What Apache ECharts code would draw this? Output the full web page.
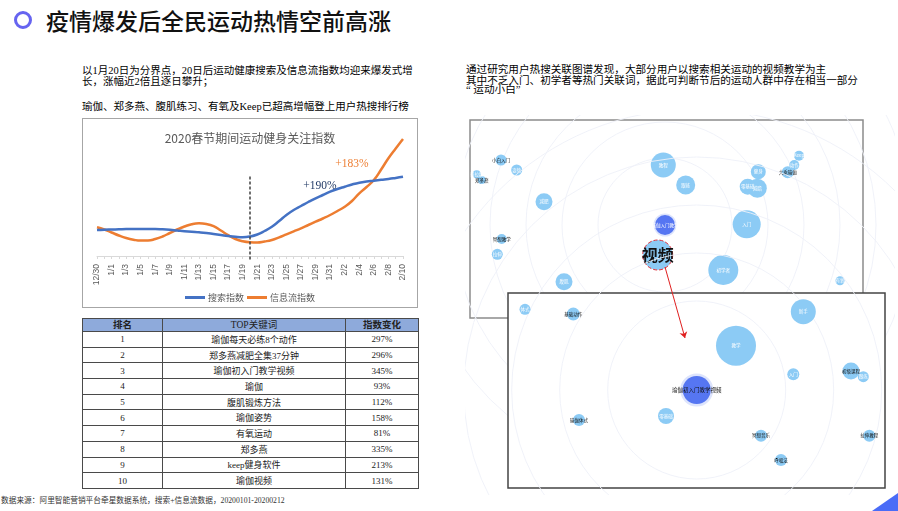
<!DOCTYPE html>
<html><head><meta charset="utf-8">
<script src="https://cdn.jsdelivr.net/npm/echarts@6/dist/echarts.min.js"></script>
<style>
html,body{margin:0;padding:0;width:898px;height:511px;overflow:hidden;background:#fff;}
body{position:relative;font-family:"Liberation Serif","Noto Sans CJK SC",serif;color:#000;}
.abs{position:absolute;white-space:nowrap;}
#icon{left:14px;top:11px;width:12px;height:12px;border-radius:50%;border:3.5px solid #6664f0;}
#title{left:46px;top:5px;font-family:"Noto Sans CJK SC",sans-serif;font-size:23px;line-height:30px;font-weight:500;color:#111;}
.para{font-size:10.5px;line-height:11px;}
.rpara{font-size:10.6px;line-height:11px;}
#lineBox{left:82px;top:118px;width:336px;height:190px;box-sizing:border-box;border:1px solid #a6a6a6;}
#line{left:82px;top:118px;width:336px;height:190px;}
#rank{border-collapse:collapse;width:336px;table-layout:fixed;font-family:"Liberation Serif","Noto Sans CJK SC",serif;font-size:9px;color:#222;}
#rank td,#rank th{border:1px solid #4a4a4a;padding:0;text-align:center;overflow:hidden;white-space:nowrap;}
#rank th{background:#8eaadb;font-size:9.5px;line-height:11px;}
#rank tr.h{height:13px;}
#rank tr.r{height:15.7px;}
#bubbles{left:465px;top:115px;width:430px;height:380px;}
#footer{left:1px;top:496px;font-size:7.7px;line-height:10px;color:#333;}
#corner{right:0;bottom:0;width:26px;height:18px;background:#4a6cf7;clip-path:polygon(100% 0,100% 100%,0 100%);}
</style></head>
<body>
<div id="icon" class="abs"></div>
<div id="title" class="abs">疫情爆发后全民运动热情空前高涨</div>
<div class="abs para" style="left:82px;top:64.5px;">以1月20日为分界点，20日后运动健康搜索及信息流指数均迎来爆发式增<br>长，涨幅近2倍且逐日攀升；</div>
<div class="abs para" style="left:82px;top:100.5px;">瑜伽、郑多燕、腹肌练习、有氧及Keep已超高增幅登上用户热搜排行榜</div>
<div class="abs rpara" style="left:466px;top:64px;">通过研究用户热搜关联图谱发现，大部分用户以搜索相关运动的视频教学为主</div>
<div class="abs rpara" style="left:466px;top:74.8px;">其中不乏入门、初学者等热门关联词，据此可判断节后的运动人群中存在相当一部分</div>
<div class="abs rpara" style="left:466px;top:83.8px;">“&nbsp;运动小白”</div>
<div id="lineBox" class="abs"></div>
<div id="line" class="abs"></div>
<div class="abs" style="left:82px;top:318px;"><table id="rank"><colgroup><col style="width:80px"><col style="width:183px"><col style="width:73px"></colgroup><tbody id="rankBody"></tbody></table></div>
<div id="bubbles" class="abs"></div>
<div id="footer" class="abs">数据来源：阿里智能营销平台牵星数据系统，搜索+信息流数据，20200101-20200212</div>
<div id="corner" class="abs"></div>
<script>
// ---------- line chart data ----------
const chartTitle = '2020春节期间运动健身关注指数';
const dates = ['12/30','12/31','1/1','1/2','1/3','1/4','1/5','1/6','1/7','1/8','1/9','1/10','1/11','1/12','1/13','1/14','1/15','1/16','1/17','1/18','1/19','1/20','1/21','1/22','1/23','1/24','1/25','1/26','1/27','1/28','1/29','1/30','1/31','2/1','2/2','2/3','2/4','2/5','2/6','2/7','2/8','2/9','2/10'];
const seriesNames = ['搜索指数','信息流指数'];
const searchIdx = [26,26.3,26.5,26.7,26.9,27,27,27,27,26.7,26.2,25.5,24.8,24.2,23.7,23,22,21,20,19.2,18.8,19.5,21.5,25,29.3,35,41,46,50,54,57.7,61,64.3,67,69.3,71.5,73.3,74.5,75.3,76.2,77,78.1,79.3];
const feedIdx = [28.7,26.5,23.5,20.5,18,16.3,15.4,15.5,17,19.5,23,26.5,29.5,31.8,32.7,32,29.8,25.5,20.8,17,14.7,13.7,13.5,14.5,16,18.7,21.7,24.7,27.7,31,34.3,37.5,41,45,49.3,55,62.7,69,76,86.5,97.7,107.5,117];
const splitDate = '1/20';
const notes = [{date:'1/30', value:70, text:'+190%'}, {date:'2/3', value:91.7, text:'+183%'}];

// ---------- table data ----------
const tableHeader = ['排名','TOP关键词','指数变化'];
const ranks = ['1','2','3','4','5','6','7','8','9','10'];
const keywords = ['瑜伽每天必练8个动作','郑多燕减肥全集37分钟','瑜伽初入门教学视频','瑜伽','腹肌锻炼方法','瑜伽姿势','有氧运动','郑多燕','keep健身软件','瑜伽视频'];
const changes = ['297%','296%','345%','93%','112%','158%','81%','335%','213%','131%'];

// ---------- association graph data (layout units) ----------
const namesA = ['瑜伽入门教学','视频','教程','跟练','入门','初学者','健身','零基础','减脂','Keep','动作','大乘瑜伽','小白入门','姿势','普拉提','郑多燕','减肥','冥想教学','拉伸','腹肌','有氧'];
const layoutXA = [195,187.7,193.3,215.7,276.7,253.3,288.3,277.7,287.3,329,324.3,317.7,31,46.7,6.7,11.7,74,31.7,27.3,94,370];
const layoutYA = [105,135,45,65,104.3,150,51.7,66.7,68.3,35.7,45,52.3,40,50,54.3,60,81.7,119,134.3,161.7,160.7];
const heatA = [20,30,25,19,28,30,15,16,19,10,10,12,11,11,8,8,17,10,11,17,9];
const ringsA = [67,103,139,175,211,247];

const namesB = ['瑜伽初入门教学视频','体式','基础动作','新手','教学','入门','初级课程','跟练','零基础','瑜伽体式','冥想音乐','拉伸教程','呼吸法'];
const layoutXB = [188.7,17,65.3,295.3,228,285.3,343,355.3,158,71,253,361.3,273];
const layoutYB = [97,16.3,21,18.7,52.7,81.3,78,83.7,123,127,142.7,142.7,167];
const heatB = [28,11,13,25,40,12,17,11,16,12,12,12,12];
const ringsB = [89,137,185,233,281];
const arrowFrom = [157,-26];
const arrowTo = [177,45];

// ---------- table ----------
(function(){
  const tb = document.getElementById('rankBody');
  let h = '<tr class="h">' + tableHeader.map((t,i)=>'<th style="font-weight:'+(i===1?'normal':'bold')+'">'+t+'</th>').join('') + '</tr>';
  for (let i=0;i<ranks.length;i++) h += '<tr class="r"><td>'+ranks[i]+'</td><td>'+keywords[i]+'</td><td>'+changes[i]+'</td></tr>';
  tb.innerHTML = h;
})();

// ---------- line chart ----------
const lc = echarts.init(document.getElementById('line'));
lc.setOption({
  animation:false,
  title:{text:chartTitle,left:'center',top:9,textStyle:{fontFamily:'Noto Sans CJK SC',fontSize:12,fontWeight:'normal',color:'#595959'}},
  legend:{data:seriesNames,top:170,left:'center',icon:'rect',itemWidth:20,itemHeight:3,itemGap:3,
    textStyle:{fontFamily:'Noto Sans CJK SC',fontSize:9,color:'#595959',padding:[0,0,0,-2]}},
  grid:{left:15,right:15,top:8,bottom:48,outerBoundsMode:'none'},
  xAxis:{type:'category',data:dates,boundaryGap:false,
    axisLine:{onZero:true,lineStyle:{color:'#d9d9d9',width:1}},
    axisTick:{show:true,length:3,interval:0,lineStyle:{color:'#d9d9d9'}},
    axisLabel:{interval:1,rotate:90,fontSize:8.5,color:'#595959',margin:4,fontFamily:'Liberation Sans'},
    splitLine:{show:false}},
  yAxis:{type:'value',min:-4,max:130,show:false,splitLine:{show:false}},
  series:[
    {name:seriesNames[0],type:'line',data:searchIdx,smooth:true,symbol:'none',z:3,
      lineStyle:{width:2.5,color:'#4472c4'},itemStyle:{color:'#4472c4'},
      markLine:{silent:true,symbol:['none','none'],label:{show:false},
        lineStyle:{type:[3,2],color:'#404040',width:1.5},
        data:[[{coord:[splitDate,-3.5]},{coord:[splitDate,80]}]]},
      markPoint:{silent:true,symbol:'circle',symbolSize:1,itemStyle:{color:'rgba(0,0,0,0)'},
        data:[{coord:[notes[0].date,notes[0].value],label:{show:true,position:'inside',offset:[-3,0],formatter:notes[0].text,color:'#203864',fontFamily:'Liberation Serif',fontSize:11.5}}]}},
    {name:seriesNames[1],type:'line',data:feedIdx,smooth:true,symbol:'none',z:2,
      lineStyle:{width:2.5,color:'#ed7d31'},itemStyle:{color:'#ed7d31'},
      markPoint:{silent:true,symbol:'circle',symbolSize:1,itemStyle:{color:'rgba(0,0,0,0)'},
        data:[{coord:[notes[1].date,notes[1].value],label:{show:true,position:'inside',formatter:notes[1].text,color:'#ed7d31',fontFamily:'Liberation Serif',fontSize:11.5}}]}}
  ]
});

// ---------- bubble graphs ----------
const darkLabelA = ['大乘瑜伽','小白入门','郑多燕','冥想教学'];
const darkLabelB = ['瑜伽初入门教学视频','基础动作','初级课程','瑜伽体式','冥想音乐','拉伸教程','呼吸法'];
const LIGHT = '#8ccbf5', DARK = '#5676f2', RING = '#eef0f8';
function nodes(names, xs, ys, heat, darkList, panel){
  return names.map((n,i)=>{
    const isCenter = i===0, isVideo = panel==='A' && n==='视频';
    return {name:n, value:[xs[i],ys[i]], symbolSize:heat[i],
      itemStyle:{opacity:1,color:isCenter?DARK:LIGHT, borderColor:isCenter?'rgba(86,118,242,0.2)':(isVideo?'#e0303a':'rgba(0,0,0,0)'),
        borderWidth:isCenter?(panel==='A'?3:5):(isVideo?1:0), borderType:isVideo?'dashed':'solid'},
      label:{show:true,position:'inside',formatter:n,fontFamily:'Noto Sans CJK SC',
        fontSize:isVideo?16:(isCenter&&panel==='B'?5.5:4.5),fontWeight:isVideo?'bold':'normal',
        color:(isVideo||darkList.indexOf(n)>=0)?'#111':'#fff'}};
  });
}
function rings(center, radii){
  return radii.map(r=>({value:center, symbolSize:2*r}));
}
const ringStyle = {opacity:1,color:'rgba(0,0,0,0)',borderColor:RING,borderWidth:0.9};
const bc = echarts.init(document.getElementById('bubbles'));
bc.setOption({
  animation:false,
  grid:[
    {left:5,top:5,width:393,height:198,show:true,backgroundColor:'#fff',borderColor:'#8c8c8c',borderWidth:1.5,z:0,outerBoundsMode:'none'},
    {left:43,top:178,width:377,height:195,show:true,backgroundColor:'#fff',borderColor:'#444',borderWidth:1.5,z:3,outerBoundsMode:'none'}
  ],
  xAxis:[{gridIndex:0,type:'value',min:0,max:393,show:false},{gridIndex:1,type:'value',min:0,max:377,show:false}],
  yAxis:[{gridIndex:0,type:'value',min:0,max:198,inverse:true,show:false},{gridIndex:1,type:'value',min:0,max:195,inverse:true,show:false}],
  series:[
    {type:'scatter',xAxisIndex:0,yAxisIndex:0,z:1,silent:true,symbol:'circle',
      data:rings([layoutXA[0],layoutYA[0]],ringsA),itemStyle:ringStyle},
    {type:'scatter',xAxisIndex:0,yAxisIndex:0,z:2,silent:true,symbol:'circle',
      data:nodes(namesA,layoutXA,layoutYA,heatA,darkLabelA,'A')},
    {type:'scatter',xAxisIndex:1,yAxisIndex:1,z:4,silent:true,symbol:'circle',
      data:rings([layoutXB[0],layoutYB[0]],ringsB),itemStyle:ringStyle},
    {type:'scatter',xAxisIndex:1,yAxisIndex:1,z:5,silent:true,symbol:'circle',
      data:nodes(namesB,layoutXB,layoutYB,heatB,darkLabelB,'B')},
    {type:'lines',coordinateSystem:'cartesian2d',xAxisIndex:1,yAxisIndex:1,z:10,clip:false,silent:true,
      symbol:['none','arrow'],symbolSize:6,lineStyle:{color:'#e02020',width:1,opacity:1},
      data:[{coords:[arrowFrom,arrowTo]}]}
  ]
});
</script>
</body></html>
